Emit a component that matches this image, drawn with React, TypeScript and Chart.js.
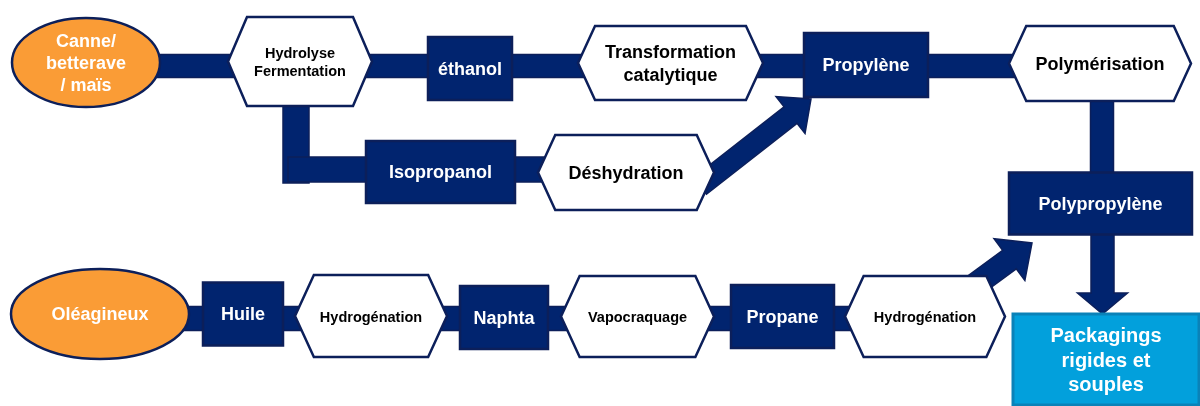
import React, { useEffect, useRef } from "react";
import { Chart, registerables } from "chart.js";

Chart.register(...registerables);

// ---- diagram data (diagram coordinates: 0..1200 × 0..406, y downward) ----
const nodeLabels = [
  "Canne/\nbetterave\n/ maïs",
  "Hydrolyse\nFermentation",
  "éthanol",
  "Transformation\ncatalytique",
  "Propylène",
  "Polymérisation",
  "Polypropylène",
  "Packagings\nrigides et\nsouples",
  "Isopropanol",
  "Déshydration",
  "Oléagineux",
  "Huile",
  "Hydrogénation",
  "Naphta",
  "Vapocraquage",
  "Propane",
  "Hydrogénation",
];
const nodeKinds = [
  "source", "step", "product", "step", "product", "step", "product", "final",
  "product", "step", "source", "product", "step", "product", "step", "product", "step",
];
const nodeX = [86, 300, 470, 670.5, 866, 1100, 1100.5, 1106, 440.5, 626, 100, 243, 371, 504, 637.5, 782.5, 925];
const nodeY = [62.5, 61.5, 68.5, 63, 65, 63.5, 203.5, 359.5, 172, 172.5, 314, 314, 316, 317.5, 316.5, 316.5, 316.5];
const nodeW = [148, 144, 84, 185, 124, 182, 183, 186, 149, 176, 178, 80, 152, 88, 153, 103, 160];
const nodeH = [89, 89, 63, 74, 64, 75, 62, 91, 62, 75, 90, 63, 82, 63, 81, 63, 81];
const nodeFont = [18, 14.5, 18, 18, 18, 18, 18, 20, 18, 18, 18, 18, 14.5, 18, 14.5, 18, 14.5];

// connector bars: [x1, y1, x2, y2, thickness]
const bars: [number, number, number, number, number][] = [
  [86, 66, 1100, 66, 23],
  [1102, 95, 1102, 204, 23],
  [296, 100, 296, 183, 26],
  [288, 169.5, 560, 169.5, 25],
  [100, 318.5, 925, 318.5, 24],
];
// arrows: [x1, y1, x2, y2, shaft, headWidth, headLength]
const arrows: [number, number, number, number, number, number, number][] = [
  [1102.5, 230, 1102.5, 314, 23, 50, 21],
  [700, 186, 811, 99, 21, 47, 26],
  [960, 296, 1032, 243, 23, 52, 28],
];

const NAVY = "#01246F";
const NAVY_DARK = "#0C1F5A";
const ORANGE = "#FA9C36";
const LIGHT_BLUE = "#02A0DC";
const LIGHT_BLUE_DARK = "#0A82B8";
const FONT = '"Liberation Sans", Arial, sans-serif';

const diagramPlugin = {
  id: "diagram",
  afterDatasetsDraw(chart: any) {
    const ctx: CanvasRenderingContext2D = chart.ctx;
    const xs = chart.scales.x;
    const ys = chart.scales.y;
    const px = (v: number) => xs.getPixelForValue(v);
    const py = (v: number) => ys.getPixelForValue(v);
    const sx = Math.abs(px(1) - px(0));
    const sy = Math.abs(py(1) - py(0));

    ctx.save();
    // bars
    bars.forEach(([x1, y1, x2, y2, t]) => {
      const ax = px(x1), ay = py(y1), bx = px(x2), by = py(y2);
      const horiz = Math.abs(by - ay) < Math.abs(bx - ax);
      ctx.fillStyle = NAVY;
      ctx.strokeStyle = NAVY_DARK;
      ctx.lineWidth = 1.5;
      let rx, ry, rw, rh;
      if (horiz) {
        rx = Math.min(ax, bx); rw = Math.abs(bx - ax); ry = ay - (t * sy) / 2; rh = t * sy;
      } else {
        ry = Math.min(ay, by); rh = Math.abs(by - ay); rx = ax - (t * sx) / 2; rw = t * sx;
      }
      ctx.fillRect(rx, ry, rw, rh);
      ctx.strokeRect(rx, ry, rw, rh);
    });
    // arrows
    arrows.forEach(([x1, y1, x2, y2, w, hw, hl]) => {
      const ax = px(x1), ay = py(y1), bx = px(x2), by = py(y2);
      const len = Math.hypot(bx - ax, by - ay);
      const ux = (bx - ax) / len, uy = (by - ay) / len;
      const nx = -uy, ny = ux;
      const cx = bx - ux * hl, cy = by - uy * hl;
      const pts = [
        [ax + (nx * w) / 2, ay + (ny * w) / 2],
        [cx + (nx * w) / 2, cy + (ny * w) / 2],
        [cx + (nx * hw) / 2, cy + (ny * hw) / 2],
        [bx, by],
        [cx - (nx * hw) / 2, cy - (ny * hw) / 2],
        [cx - (nx * w) / 2, cy - (ny * w) / 2],
        [ax - (nx * w) / 2, ay - (ny * w) / 2],
      ];
      ctx.beginPath();
      pts.forEach(([x, y], i) => (i ? ctx.lineTo(x, y) : ctx.moveTo(x, y)));
      ctx.closePath();
      ctx.fillStyle = NAVY;
      ctx.fill();
      ctx.strokeStyle = NAVY_DARK;
      ctx.lineWidth = 1.5;
      ctx.lineJoin = "miter";
      ctx.stroke();
    });

    // nodes
    nodeLabels.forEach((label, i) => {
      const kind = nodeKinds[i];
      const cx = px(nodeX[i]), cy = py(nodeY[i]);
      const w = nodeW[i] * sx, h = nodeH[i] * sy;
      const x0 = cx - w / 2, x1 = cx + w / 2, y0 = cy - h / 2, y1 = cy + h / 2;
      let textColor = "#FFFFFF";
      ctx.beginPath();
      if (kind === "source") {
        ctx.ellipse(cx, cy, w / 2, h / 2, 0, 0, Math.PI * 2);
        ctx.fillStyle = ORANGE;
        ctx.fill();
        ctx.strokeStyle = NAVY_DARK;
        ctx.lineWidth = 2.5;
        ctx.stroke();
      } else if (kind === "step") {
        const inset = Math.min(19, h * 0.23);
        ctx.moveTo(x0, cy);
        ctx.lineTo(x0 + inset, y0);
        ctx.lineTo(x1 - inset, y0);
        ctx.lineTo(x1, cy);
        ctx.lineTo(x1 - inset, y1);
        ctx.lineTo(x0 + inset, y1);
        ctx.closePath();
        ctx.fillStyle = "#FFFFFF";
        ctx.fill();
        ctx.strokeStyle = NAVY_DARK;
        ctx.lineWidth = 2.5;
        ctx.lineJoin = "miter";
        ctx.stroke();
        textColor = "#000000";
      } else if (kind === "final") {
        ctx.rect(x0, y0, w, h);
        ctx.fillStyle = LIGHT_BLUE;
        ctx.fill();
        ctx.strokeStyle = LIGHT_BLUE_DARK;
        ctx.lineWidth = 3;
        ctx.stroke();
      } else {
        ctx.rect(x0, y0, w, h);
        ctx.fillStyle = NAVY;
        ctx.fill();
        ctx.strokeStyle = NAVY_DARK;
        ctx.lineWidth = 2.5;
        ctx.stroke();
      }
      // text
      const fs = nodeFont[i];
      const lines = label.split("\n");
      const lh = fs * 1.24;
      ctx.fillStyle = textColor;
      ctx.font = `bold ${fs}px ${FONT}`;
      ctx.textAlign = "center";
      ctx.textBaseline = "middle";
      const startY = cy - ((lines.length - 1) * lh) / 2;
      lines.forEach((ln, k) => ctx.fillText(ln, cx, startY + k * lh + 1.5));
    });
    ctx.restore();
  },
};

export default function App() {
  const ref = useRef<HTMLCanvasElement | null>(null);
  useEffect(() => {
    if (!ref.current) return;
    const chart = new Chart(ref.current, {
      type: "scatter",
      data: {
        datasets: [
          {
            label: "nodes",
            data: nodeX.map((x, i) => ({ x, y: nodeY[i] })),
            pointRadius: 0,
            pointHoverRadius: 0,
          },
        ],
      },
      options: {
        animation: false,
        responsive: false,
        maintainAspectRatio: false,
        events: [],
        layout: { padding: 0 },
        scales: {
          x: { type: "linear", min: 0, max: 1200, display: false },
          y: { type: "linear", min: 0, max: 406, reverse: true, display: false },
        },
        plugins: { legend: { display: false }, tooltip: { enabled: false } },
      },
      plugins: [diagramPlugin],
    });
    return () => chart.destroy();
  }, []);
  return (
    <div style={{ position: "absolute", left: 0, top: 0, width: 1200, height: 406, background: "#FFFFFF" }}>
      <canvas ref={ref} width={1200} height={406} style={{ width: 1200, height: 406, display: "block" }} />
    </div>
  );
}
